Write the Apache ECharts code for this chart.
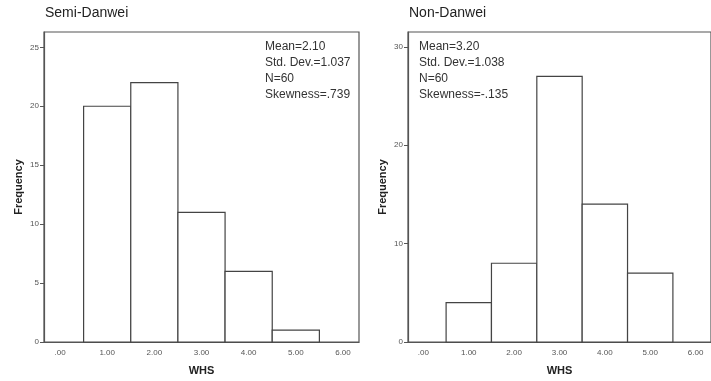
<!DOCTYPE html>
<html>
<head>
<meta charset="utf-8">
<style>
  html, body { margin: 0; padding: 0; background: #fff; }
  #chart { width: 711px; height: 381px; }
</style>
<script src="https://cdn.jsdelivr.net/npm/echarts@6/dist/echarts.min.js"></script>
</head>
<body>
<div id="chart"></div>
<script>
// Histogram bins (bin centres on the WHS scale) and frequencies per group
const binCenters = [1, 2, 3, 4, 5];
const semiDanweiFreq = [20, 22, 11, 6, 1];
const nonDanweiFreq = [4, 8, 27, 14, 7];

// Tick positions shown along the axes
const whsTicks = [0, 1, 2, 3, 4, 5, 6];
const semiDanweiFreqTicks = [0, 5, 10, 15, 20, 25];
const nonDanweiFreqTicks = [0, 10, 20, 30];

// Summary statistics printed inside each panel
const semiDanweiStats = ['Mean=2.10', 'Std. Dev.=1.037', 'N=60', 'Skewness=.739'];
const nonDanweiStats = ['Mean=3.20', 'Std. Dev.=1.038', 'N=60', 'Skewness=-.135'];

const panelTitles = ['Semi-Danwei', 'Non-Danwei'];

const FONT = '"Liberation Sans", Arial, Helvetica, sans-serif';
const AXIS_COLOR = '#555';
const BAR_EDGE = '#444';

function whsLabel(v) {
  const s = Number(v).toFixed(2);
  return s.startsWith('0') ? s.slice(1) : s;
}

function histData(freqs) {
  return binCenters.map((c, i) => [c, freqs[i]]);
}

function renderBin(params, api) {
  const c = api.value(0);
  const f = api.value(1);
  const p0 = api.coord([c - 0.5, f]);
  const p1 = api.coord([c + 0.5, 0]);
  return {
    type: 'rect',
    shape: { x: p0[0], y: p0[1], width: p1[0] - p0[0], height: p1[1] - p0[1] },
    style: { fill: '#fff', stroke: BAR_EDGE, lineWidth: 1.2 }
  };
}

function makeXAxis(gridIndex) {
  return {
    type: 'value', gridIndex: gridIndex,
    min: -0.34, max: 6.34,
    name: 'WHS', nameLocation: 'middle', nameGap: 23,
    nameTextStyle: { fontFamily: FONT, fontWeight: 'bold', fontSize: 11, color: '#222' },
    axisLine: { show: true, onZero: false, lineStyle: { color: AXIS_COLOR, width: 1.2 } },
    axisTick: { show: false },
    splitLine: { show: false },
    axisLabel: {
      customValues: whsTicks, formatter: whsLabel,
      fontFamily: FONT, fontSize: 8, color: '#555', margin: 7
    }
  };
}

function makeYAxis(gridIndex, max, ticks) {
  return {
    type: 'value', gridIndex: gridIndex,
    min: 0, max: max,
    name: 'Frequency', nameLocation: 'middle', nameGap: 20,
    nameTextStyle: { fontFamily: FONT, fontWeight: 'bold', fontSize: 11, color: '#222' },
    axisLine: { show: true, onZero: false, lineStyle: { color: AXIS_COLOR, width: 1.2 } },
    axisTick: { show: true, inside: false, length: 4, customValues: ticks,
                lineStyle: { color: AXIS_COLOR, width: 1 } },
    splitLine: { show: false },
    axisLabel: {
      customValues: ticks, fontFamily: FONT, fontSize: 8, color: '#555', margin: 5
    }
  };
}

function statsText(lines, left) {
  return {
    type: 'text', left: left, top: 39,
    style: {
      text: lines.join('\n'), fontFamily: FONT, fontSize: 12,
      lineHeight: 15.8, fill: '#333'
    }
  };
}

const chart = echarts.init(document.getElementById('chart'), null, { renderer: 'canvas' });

chart.setOption({
  animation: false,
  backgroundColor: '#fff',
  title: [
    { text: panelTitles[0], left: 40, top: 1,
      textStyle: { fontFamily: FONT, fontSize: 14, fontWeight: 'normal', color: '#222' } },
    { text: panelTitles[1], left: 404, top: 1,
      textStyle: { fontFamily: FONT, fontSize: 14, fontWeight: 'normal', color: '#222' } }
  ],
  grid: [
    { left: 44, top: 32, width: 315, height: 310, show: true,
      borderColor: AXIS_COLOR, borderWidth: 1.2, backgroundColor: 'transparent' },
    { left: 408, top: 32, width: 314, height: 310, show: true,
      borderColor: AXIS_COLOR, borderWidth: 1.2, backgroundColor: 'transparent' }
  ],
  xAxis: [makeXAxis(0), makeXAxis(1)],
  yAxis: [makeYAxis(0, 26.3, semiDanweiFreqTicks), makeYAxis(1, 31.5, nonDanweiFreqTicks)],
  series: [
    { type: 'custom', xAxisIndex: 0, yAxisIndex: 0, renderItem: renderBin,
      data: histData(semiDanweiFreq), encode: { x: 0, y: 1 } },
    { type: 'custom', xAxisIndex: 1, yAxisIndex: 1, renderItem: renderBin,
      data: histData(nonDanweiFreq), encode: { x: 0, y: 1 } }
  ],
  graphic: [
    statsText(semiDanweiStats, 265),
    statsText(nonDanweiStats, 419)
  ]
});
</script>
</body>
</html>
